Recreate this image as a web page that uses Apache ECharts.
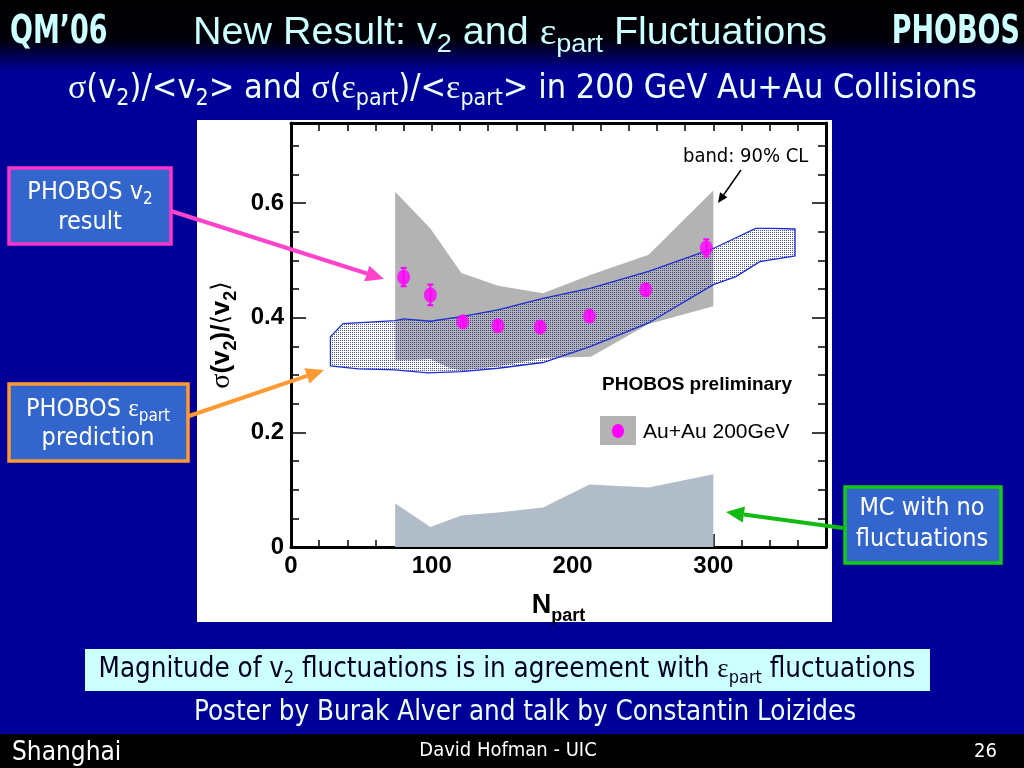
<!DOCTYPE html>
<html>
<head>
<meta charset="utf-8">
<script src="https://cdn.jsdelivr.net/npm/echarts@6/dist/echarts.min.js"></script>
<style>
html,body{margin:0;padding:0;width:1024px;height:768px;overflow:hidden;background:#000099;}
#c{width:1024px;height:768px;}
</style>
</head>
<body>
<div id="c"></div>
<script>
// ---------------- data ----------------
// 90% CL band of the measured sigma(v2)/<v2>
const clUpperX = [74, 99, 121, 147, 179, 213, 254, 300];
const clUpperY = [0.620, 0.556, 0.478, 0.456, 0.443, 0.475, 0.510, 0.622];
const clLowerX = [300, 254, 213, 179, 147, 121, 113, 99, 86, 74];
const clLowerY = [0.420, 0.389, 0.332, 0.330, 0.315, 0.308, 0.312, 0.328, 0.326, 0.326];

// PHOBOS epsilon_part prediction band (outline)
const epsUpperX = [28, 37, 74, 80, 99, 121, 147, 179, 213, 254, 300, 330, 342, 358];
const epsUpperY = [0.367, 0.390, 0.395, 0.398, 0.394, 0.402, 0.414, 0.434, 0.452, 0.481, 0.521, 0.556, 0.556, 0.555];
const epsLowerX = [358, 333, 316, 300, 254, 213, 179, 147, 121, 97, 74, 48, 28];
const epsLowerY = [0.508, 0.498, 0.472, 0.458, 0.391, 0.350, 0.322, 0.312, 0.306, 0.304, 0.309, 0.311, 0.316];

// MC with no fluctuations
const mcX = [74, 99, 121, 147, 179, 212, 254, 300];
const mcY = [0.076, 0.035, 0.055, 0.060, 0.069, 0.109, 0.104, 0.127];

// PHOBOS v2 result points
const ptX = [80, 99, 122, 147, 177, 212, 252, 295];
const ptY = [0.471, 0.440, 0.393, 0.386, 0.384, 0.403, 0.449, 0.522];
const ptErr = [0.016, 0.018, 0.008, 0.008, 0.008, 0.009, 0.010, 0.015];

// axes
const xMin = 0, xMax = 380, xMajor = 100, xMinor = 20;
const yMin = 0, yMax = 0.74, yMajor = 0.2, yMinor = 0.05;

// ---------------- helpers ----------------
const zip = (xs, ys) => xs.map((x, i) => [x, ys[i]]);
const clPoly = zip(clUpperX, clUpperY).concat(zip(clLowerX, clLowerY));
const epsPoly = zip(epsUpperX, epsUpperY).concat(zip(epsLowerX, epsLowerY));

// dotted hatch pattern for the epsilon band
const pc = document.createElement('canvas');
pc.width = 2; pc.height = 2;
const pctx = pc.getContext('2d');
pctx.fillStyle = 'rgba(30,40,140,0.8)';
pctx.fillRect(0, 0, 1, 1);

const TAHOMA = "'DejaVu Sans Condensed','DejaVu Sans',sans-serif";
const SERIF = "'Liberation Serif','DejaVu Serif',serif";
const HELV = "'Liberation Sans',Arial,sans-serif";

function polySeries(poly, fill, stroke, z) {
  return {
    type: 'custom', z: z, silent: true,
    data: [[poly[0][0], poly[0][1]]],
    encode: {x: 0, y: 1},
    renderItem: function (params, api) {
      return {
        type: 'polygon',
        shape: {points: poly.map(p => api.coord(p))},
        style: {fill: fill, stroke: stroke || null, lineWidth: stroke ? 1.3 : 0}
      };
    }
  };
}

function xAxisDef(pos, interval, tickLen, showLine, showLabel) {
  return {
    type: 'value', position: pos, min: xMin, max: xMax, interval: interval,
    axisLine: {show: showLine, onZero: false, lineStyle: {color: '#000', width: 3}},
    axisTick: {show: true, inside: true, length: tickLen, lineStyle: {color: '#000', width: 1.5}},
    axisLabel: {show: showLabel, margin: 7, color: '#000', fontFamily: HELV, fontWeight: 'bold', fontSize: 24,
      formatter: v => (Math.abs(v % 100) < 1e-6 ? String(v) : '')},
    splitLine: {show: false}
  };
}
function yAxisDef(pos, interval, tickLen, showLine, showLabel) {
  return {
    type: 'value', position: pos, min: yMin, max: yMax, interval: interval,
    axisLine: {show: showLine, onZero: false, lineStyle: {color: '#000', width: 3}},
    axisTick: {show: true, inside: true, length: tickLen, lineStyle: {color: '#000', width: 1.5}},
    axisLabel: {show: showLabel, margin: 7, color: '#000', fontFamily: HELV, fontWeight: 'bold', fontSize: 24,
      formatter: function (v) {
        const r = Math.round(v * 10) / 10;
        if (Math.abs(v - Math.round(v / 0.2) * 0.2) > 1e-6) return '';
        return r === 0 ? '0' : r.toFixed(1);
      }},
    splitLine: {show: false}
  };
}

const xAxes = [
  xAxisDef('bottom', xMajor, 13, true, true),
  xAxisDef('bottom', xMinor, 7, false, false),
  xAxisDef('top', xMinor, 8, true, false)
];
xAxes[0].name = '{n|N}{s|part}';
xAxes[0].nameLocation = 'middle';
xAxes[0].nameGap = 40;
xAxes[0].nameTextStyle = {
  rich: {
    n: {fontFamily: HELV, fontWeight: 'bold', fontSize: 27, color: '#000'},
    s: {fontFamily: HELV, fontWeight: 'bold', fontSize: 18, color: '#000', padding: [20, 0, 0, 0]}
  }
};

const yAxes = [
  yAxisDef('left', yMajor, 15, true, true),
  yAxisDef('left', yMinor, 8, false, false),
  yAxisDef('right', yMajor, 14, true, false),
  yAxisDef('right', yMinor, 8, false, false)
];
yAxes[0].name = '{g|σ}{b|(v}{s|2}{b|)/}{a|⟨}{b|v}{s|2}{a|⟩}';
yAxes[0].nameLocation = 'middle';
yAxes[0].nameRotate = 90;
yAxes[0].nameGap = 48;
yAxes[0].nameTextStyle = {
  rich: {
    g: {fontFamily: SERIF, fontSize: 28, color: '#000'},
    b: {fontFamily: HELV, fontWeight: 'bold', fontSize: 26, color: '#000'},
    a: {fontFamily: "'DejaVu Sans',sans-serif", fontSize: 24, color: '#000'},
    s: {fontFamily: HELV, fontWeight: 'bold', fontSize: 18, color: '#000', padding: [18, 0, 0, 0]}
  }
};

// ---------------- slide decorations ----------------
function arrow(x1, y1, x2, y2, color, w, head) {
  const ang = Math.atan2(y2 - y1, x2 - x1);
  const hl = head || 16, hw = (head || 16) * 0.45;
  const bx = x2 - hl * Math.cos(ang), by = y2 - hl * Math.sin(ang);
  const px = -Math.sin(ang) * hw, py = Math.cos(ang) * hw;
  return [
    {type: 'line', z: 200, shape: {x1: x1, y1: y1, x2: bx, y2: by}, style: {stroke: color, lineWidth: w}},
    {type: 'polygon', z: 200, shape: {points: [[x2, y2], [bx + px, by + py], [bx - px, by - py]]}, style: {fill: color}}
  ];
}

// rich token styles for graphic text (zrender uses fill)
const tok = (size, color, font, shift, weight) => {
  const o = {fontSize: size, fontFamily: font, fill: color, color: color};
  if (shift) o.padding = [shift, 0, 0, 0];
  if (weight) o.fontWeight = weight;
  return o;
};

const TITLE_C = '#ccffff';
const graphics = [
  // header gradient
  {type: 'rect', z: -100, shape: {x: 0, y: 0, width: 1024, height: 72},
    style: {fill: new echarts.graphic.LinearGradient(0, 0, 0, 1, [
      {offset: 0, color: '#000000'}, {offset: 0.55, color: '#000008'}, {offset: 1, color: '#000099'}])}},
  // footer
  {type: 'rect', z: -100, shape: {x: 0, y: 734, width: 1024, height: 34}, style: {fill: '#000000'}},
  // figure white panel
  {type: 'rect', z: -90, shape: {x: 197, y: 120, width: 635, height: 502}, style: {fill: '#ffffff'}},

  // header texts
  {type: 'text', z: 100, x: 10, y: 33, scaleY: 1.3, style: {text: 'QM’06', fill: TITLE_C,
    font: "bold 30px 'DejaVu Sans Condensed',sans-serif", verticalAlign: 'middle'}},
  {type: 'text', z: 100, x: 1020, y: 33, scaleY: 1.3, style: {text: 'PHOBOS', fill: TITLE_C, align: 'right',
    font: "bold 30px 'DejaVu Sans Condensed',sans-serif", verticalAlign: 'middle'}},
  {type: 'text', z: 100, x: 193, y: 34, scaleX: 1.04, style: {
    text: '{a|New Result: v}{s|2}{a| and }{g|ε}{s|part}{a| Fluctuations}', verticalAlign: 'middle', fill: TITLE_C,
    rich: {
      a: tok(38, TITLE_C, HELV),
      g: tok(38, TITLE_C, SERIF),
      s: tok(26, TITLE_C, HELV, 22)
    }}},
  {type: 'text', z: 100, x: 68, y: 89, style: {
    text: '{g|σ}{a|(v}{s|2}{a|)/<v}{s|2}{a|> and }{g|σ}{a|(}{g|ε}{s|part}{a|)/<}{g|ε}{s|part}{a|> in 200 GeV Au+Au Collisions}',
    verticalAlign: 'middle', fill: '#eeffff',
    rich: {
      a: tok(34, '#eeffff', TAHOMA),
      g: tok(34, '#eeffff', SERIF),
      s: tok(23, '#eeffff', TAHOMA, 20)
    }}},

  // annotation boxes
  {type: 'rect', z: 150, shape: {x: 9, y: 168, width: 162, height: 76},
    style: {fill: '#3366cc', stroke: '#ff33cc', lineWidth: 3.5}},
  {type: 'text', z: 151, x: 90, y: 192, style: {
    text: '{a|PHOBOS v}{s|2}', align: 'center', verticalAlign: 'middle', fill: '#ffffff',
    rich: {a: tok(25, '#ffffff', TAHOMA), s: tok(17, '#ffffff', TAHOMA, 15)}}},
  {type: 'text', z: 151, x: 90, y: 222, style: {text: 'result', align: 'center', verticalAlign: 'middle',
    fill: '#ffffff', font: "25px 'DejaVu Sans Condensed','DejaVu Sans',sans-serif"}},

  {type: 'rect', z: 150, shape: {x: 9, y: 384, width: 179, height: 77},
    style: {fill: '#3366cc', stroke: '#ff9933', lineWidth: 3.5}},
  {type: 'text', z: 151, x: 98, y: 409, style: {
    text: '{a|PHOBOS }{g|ε}{s|part}', align: 'center', verticalAlign: 'middle', fill: '#ffffff',
    rich: {a: tok(25, '#ffffff', TAHOMA), g: tok(25, '#ffffff', SERIF), s: tok(17, '#ffffff', TAHOMA, 15)}}},
  {type: 'text', z: 151, x: 98, y: 438, style: {text: 'prediction', align: 'center', verticalAlign: 'middle',
    fill: '#ffffff', font: "25px 'DejaVu Sans Condensed','DejaVu Sans',sans-serif"}},

  {type: 'rect', z: 150, shape: {x: 845, y: 487, width: 156, height: 76},
    style: {fill: '#3366cc', stroke: '#11cc11', lineWidth: 3.5}},
  {type: 'text', z: 151, x: 922, y: 508, style: {text: 'MC with no', align: 'center', verticalAlign: 'middle',
    fill: '#ffffff', font: "25px 'DejaVu Sans Condensed','DejaVu Sans',sans-serif"}},
  {type: 'text', z: 151, x: 922, y: 539, style: {text: 'fluctuations', align: 'center', verticalAlign: 'middle',
    fill: '#ffffff', font: "25px 'DejaVu Sans Condensed','DejaVu Sans',sans-serif"}},

  // plot annotations
  {type: 'text', z: 120, x: 683, y: 157, style: {text: 'band: 90% CL', verticalAlign: 'middle',
    fill: '#000000', font: "20px 'DejaVu Sans Condensed','DejaVu Sans',sans-serif"}},
  {type: 'text', z: 120, x: 602, y: 385, style: {text: 'PHOBOS preliminary', verticalAlign: 'middle',
    fill: '#000000', font: "bold 19px 'Liberation Sans',Arial,sans-serif"}},
  {type: 'rect', z: 120, shape: {x: 600, y: 416, width: 36, height: 29}, style: {fill: '#b3b3b3'}},
  {type: 'ellipse', z: 121, shape: {cx: 618, cy: 431, rx: 6, ry: 7}, style: {fill: '#ff00ff'}},
  {type: 'text', z: 120, x: 643, y: 432, style: {text: 'Au+Au 200GeV', verticalAlign: 'middle',
    fill: '#000000', font: "21px 'Liberation Sans',Arial,sans-serif"}},

  // bottom box
  {type: 'rect', z: 100, shape: {x: 85, y: 649, width: 845, height: 42}, style: {fill: '#ccffff'}},
  {type: 'text', z: 101, x: 507, y: 670, style: {
    text: '{a|Magnitude of v}{s|2}{a| fluctuations is in agreement with }{g|ε}{s|part}{a| fluctuations}',
    align: 'center', verticalAlign: 'middle', fill: '#000022',
    rich: {a: tok(27.5, '#000022', TAHOMA), g: tok(27, '#000022', SERIF), s: tok(18, '#000022', TAHOMA, 16)}}},
  {type: 'text', z: 100, x: 525, y: 713, style: {text: 'Poster by Burak Alver and talk by Constantin Loizides',
    align: 'center', verticalAlign: 'middle', fill: '#eeffff',
    font: "27.5px 'DejaVu Sans Condensed','DejaVu Sans',sans-serif"}},

  // footer
  {type: 'text', z: 100, x: 12, y: 753, style: {text: 'Shanghai', verticalAlign: 'middle', fill: '#ffffff',
    font: "26px 'DejaVu Sans Condensed','DejaVu Sans',sans-serif"}},
  {type: 'text', z: 100, x: 508, y: 751, style: {text: 'David Hofman - UIC', align: 'center', verticalAlign: 'middle', fill: '#ffffff',
    font: "20px 'DejaVu Sans Condensed','DejaVu Sans',sans-serif"}},
  {type: 'text', z: 100, x: 997, y: 752, style: {text: '26', align: 'right', verticalAlign: 'middle', fill: '#ffffff',
    font: "20px 'DejaVu Sans Condensed','DejaVu Sans',sans-serif"}}
]
  .concat(arrow(171, 211, 384, 279, '#ff44cc', 4, 18))
  .concat(arrow(189, 416, 324, 370, '#ff9933', 4, 18))
  .concat(arrow(843, 528, 726, 512, '#11bb11', 4, 18))
  .concat(arrow(741, 170, 718, 203, '#000000', 1.5, 10));

const chart = echarts.init(document.getElementById('c'), null, {renderer: 'canvas'});
chart.setOption({
  animation: false,
  backgroundColor: '#000099',
  grid: {left: 291, top: 123, right: 198, bottom: 221, containLabel: false},
  xAxis: xAxes,
  yAxis: yAxes,
  graphic: graphics,
  series: [
    polySeries(clPoly, '#b3b3b3', null, 1),
    polySeries(epsPoly, {image: pc, repeat: 'repeat'}, '#1f2fd0', 2),
    {
      type: 'line', z: 2, silent: true, showSymbol: false,
      data: zip(mcX, mcY),
      lineStyle: {width: 0, color: '#b0bcc8'},
      areaStyle: {color: '#b0bcc8', opacity: 1}
    },
    {
      type: 'custom', z: 5, silent: true,
      data: ptX.map((x, i) => [x, ptY[i], ptErr[i]]),
      encode: {x: 0, y: 1},
      renderItem: function (params, api) {
        const x = api.value(0), y = api.value(1), e = api.value(2);
        const top = api.coord([x, y + e]), bot = api.coord([x, y - e]);
        const c = '#ff00ff';
        return {type: 'group', children: [
          {type: 'line', shape: {x1: top[0], y1: top[1], x2: bot[0], y2: bot[1]}, style: {stroke: c, lineWidth: 2}},
          {type: 'line', shape: {x1: top[0] - 3, y1: top[1], x2: top[0] + 3, y2: top[1]}, style: {stroke: c, lineWidth: 2}},
          {type: 'line', shape: {x1: bot[0] - 3, y1: bot[1], x2: bot[0] + 3, y2: bot[1]}, style: {stroke: c, lineWidth: 2}}
        ]};
      }
    },
    {
      type: 'scatter', z: 6, silent: true,
      data: zip(ptX, ptY),
      symbol: 'circle', symbolSize: [13, 15],
      itemStyle: {color: '#ff00ff'}
    }
  ]
});
</script>
</body>
</html>
